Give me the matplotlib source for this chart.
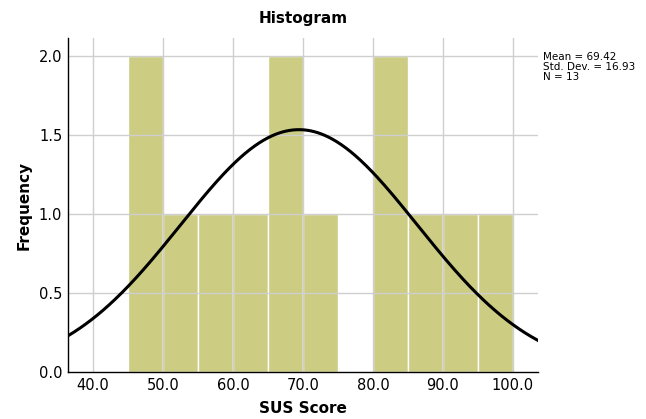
import numpy as np
import matplotlib
matplotlib.use('Agg')
import matplotlib.pyplot as plt

# Histogram data (SUS scores, bins of width 5)
bin_left = [45, 50, 55, 60, 65, 70, 75, 80, 85, 90, 95]
counts = [2, 1, 1, 1, 2, 1, 0, 2, 1, 1, 1]
bin_width = 5
mean = 69.42
std_dev = 16.93
n = 13

x_ticks = [40, 50, 60, 70, 80, 90, 100]
y_ticks = [0.0, 0.5, 1.0, 1.5, 2.0]

fig = plt.figure(figsize=(6.46, 4.19), dpi=100)
ax = fig.add_axes([0.105, 0.112, 0.728, 0.797])

ax.bar(bin_left, counts, width=bin_width, align='edge', color='#cccc83',
       edgecolor='white', linewidth=1.0, zorder=1)

for xt in x_ticks:
    ax.axvline(xt, color='#cfcfcf', linewidth=1.0, zorder=2)
for yt in y_ticks[1:]:
    ax.axhline(yt, color='#cfcfcf', linewidth=1.0, zorder=2)

xmin, xmax = 36.4, 103.6
xs = np.linspace(xmin, xmax, 400)
ys = n * bin_width / (std_dev * np.sqrt(2 * np.pi)) * np.exp(-0.5 * ((xs - mean) / std_dev) ** 2)
ax.plot(xs, ys, color='black', linewidth=2.2, zorder=3)

ax.set_xlim(xmin, xmax)
ax.set_ylim(0, 2.11)
ax.set_xticks(x_ticks)
ax.set_xticklabels([f'{v:.1f}' for v in x_ticks])
ax.set_yticks(y_ticks)
ax.set_yticklabels([f'{v:.1f}' for v in y_ticks])
ax.tick_params(length=0, labelsize=10.5, pad=4)

for side in ['top', 'right']:
    ax.spines[side].set_visible(False)
for side in ['left', 'bottom']:
    ax.spines[side].set_color('black')
    ax.spines[side].set_linewidth(1.0)
    ax.spines[side].set_zorder(4)

ax.set_xlabel('SUS Score', fontsize=11, fontweight='bold', labelpad=6)
ax.set_ylabel('Frequency', fontsize=11, fontweight='bold', labelpad=5)
ax.set_title('Histogram', fontsize=11, fontweight='bold', pad=11)

fig.text(0.841, 0.875, f'Mean = {mean:.2f}\nStd. Dev. = {std_dev:.2f}\nN = {n}',
         fontsize=7.5, va='top', ha='left', linespacing=1.0)

plt.savefig('out.png', dpi=100)
plt.close()
